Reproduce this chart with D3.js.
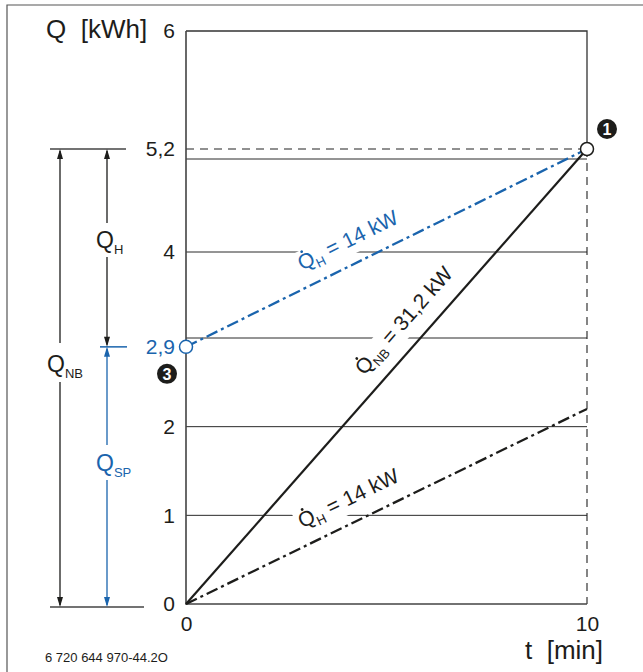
<!DOCTYPE html>
<html><head><meta charset="utf-8">
<script src="https://cdn.jsdelivr.net/npm/d3@7"></script>
<style>
html,body{margin:0;padding:0;background:#fff;}
svg{display:block;font-family:"Liberation Sans",Arial,sans-serif;}
</style></head>
<body>
<svg id="c" width="643" height="672"></svg>
<script>
// ---- data ----
const timeTicks = [0, 10];
const timeTickLabels = ["0", "10"];
const energyTicks = [0, 1, 2, 2.9, 4, 5.2, 6];
const energyTickLabels = ["0", "1", "2", "2,9", "4", "5,2", "6"];
const gridValues = [1, 2, 3, 4, 5];
const lineTimes = [0, 10];
const heaterStartQ = [2.9, 5.2];      // Q̇H = 14 kW, starting from storage 2,9
const totalQ = [0, 5.2];              // Q̇NB = 31,2 kW
const heaterOnlyQ = [0, 2.2];         // Q̇H = 14 kW from 0
const markerPoints = [[0, 2.9], [10, 5.2]];

const blue = "#1a64ad";
const ink = "#1d1d1b";

const svg = d3.select("#c");
const x = d3.scaleLinear().domain([0, 10]).range([186, 587]);
const y = d3.scaleLinear().domain([0, 3, 4, 5, 5.2, 6]).range([604, 338, 252, 159, 149, 31]);

// outer frame
svg.append("path").attr("d", "M7,672V5H643").attr("fill", "none").attr("stroke", "#555").attr("stroke-width", 1.2);

// grid lines
svg.append("g").selectAll("line").data(gridValues).join("line")
  .attr("x1", x(0)).attr("x2", x(10))
  .attr("y1", d => y(d)).attr("y2", d => y(d))
  .attr("stroke", "#2a2a2a").attr("stroke-width", 1);

// dashed 5.2 guide and right edge
svg.append("line").attr("x1", x(0)).attr("x2", x(10)).attr("y1", y(5.2)).attr("y2", y(5.2))
  .attr("stroke", "#222").attr("stroke-width", 1.1).attr("stroke-dasharray", "8,6");
svg.append("line").attr("x1", x(10)).attr("x2", x(10)).attr("y1", y(5.2)).attr("y2", y(0))
  .attr("stroke", "#222").attr("stroke-width", 1.1).attr("stroke-dasharray", "8,6");
svg.append("path").attr("d", `M${x(0)},${y(6)}H${x(10)}V${y(5.2)}`)
  .attr("fill", "none").attr("stroke", "#333").attr("stroke-width", 1.3);
// axes frame
svg.append("path").attr("d", `M${x(0)},${y(6)}V${y(0)}H${x(10)}`)
  .attr("fill", "none").attr("stroke", "#444").attr("stroke-width", 1.6);

// y axis labels
const yAxis = d3.axisLeft(y).tickValues(energyTicks)
  .tickFormat((d, i) => energyTickLabels[i]).tickSize(0).tickPadding(11);
const gy = svg.append("g").attr("transform", `translate(${x(0)},0)`).call(yAxis);
gy.select(".domain").remove();
gy.selectAll("text").attr("font-size", 21).attr("font-family", "Liberation Sans, Arial, sans-serif")
  .attr("fill", d => d === 2.9 ? blue : ink);

// x axis labels
const xAxis = d3.axisBottom(x).tickValues(timeTicks)
  .tickFormat((d, i) => timeTickLabels[i]).tickSize(0).tickPadding(12);
const gx = svg.append("g").attr("transform", `translate(0,${y(0)})`).call(xAxis);
gx.select(".domain").remove();
gx.selectAll("text").attr("font-size", 21).attr("font-family", "Liberation Sans, Arial, sans-serif").attr("fill", ink);

// axis titles
svg.append("text").attr("x", 46).attr("y", 38).attr("font-size", 26).attr("fill", ink)
  .attr("xml:space", "preserve").text("Q  [kWh]");
svg.append("text").attr("x", 603).attr("y", 659).attr("font-size", 26).attr("fill", ink)
  .attr("text-anchor", "end").attr("xml:space", "preserve").text("t  [min]");
svg.append("text").attr("x", 45).attr("y", 662).attr("font-size", 13).attr("fill", ink)
  .text("6 720 644 970-44.2O");

// rotated labels along lines
function lineLabel(q, frac, offset, color, sub, rest) {
  const x0 = x(lineTimes[0]), y0 = y(q[0]), x1 = x(lineTimes[1]), y1 = y(q[1]);
  const ang = Math.atan2(y1 - y0, x1 - x0) * 180 / Math.PI;
  const px = x0 + (x1 - x0) * frac, py = y0 + (y1 - y0) * frac;
  const g = svg.append("g").attr("transform", `translate(${px},${py}) rotate(${ang})`);
  const bg = g.append("rect").attr("fill", "#fff");
  const t = g.append("text").attr("x", 0).attr("y", -offset).attr("text-anchor", "middle")
    .attr("font-size", 21).attr("fill", color);
  t.append("tspan").text("Q");
  t.append("tspan").attr("font-size", 13).attr("dy", 5).text(sub);
  t.append("tspan").attr("dy", -5).attr("xml:space", "preserve").text(rest);
  const bb = t.node().getBBox();
  bg.attr("x", bb.x - 3).attr("y", bb.y).attr("width", bb.width + 6).attr("height", bb.height);
  const ext = t.node().getExtentOfChar(0);
  g.append("circle").attr("cx", ext.x + ext.width / 2).attr("cy", ext.y + 1.8).attr("r", 1.4).attr("fill", color);
}
lineLabel(heaterStartQ, 0.43, 17, blue, "H", " = 14 kW");
lineLabel(totalQ, 0.588, 17, ink, "NB", " = 31,2 kW");
lineLabel(heaterOnlyQ, 0.431, 17, ink, "H", " = 14 kW");

// series lines
const ln = d3.line().x(d => x(d[0])).y(d => y(d[1]));
function series(q, color, dash, w) {
  svg.append("path").datum(lineTimes.map((t, i) => [t, q[i]])).attr("d", ln)
    .attr("fill", "none").attr("stroke", color).attr("stroke-width", w)
    .attr("stroke-dasharray", dash);
}
series(heaterOnlyQ, ink, "12,4,3,4", 2.3);
series(totalQ, ink, null, 2.2);
series(heaterStartQ, blue, "12,4,3,4", 2.3);

// markers
svg.append("g").selectAll("circle").data(markerPoints).join("circle")
  .attr("cx", d => x(d[0])).attr("cy", d => y(d[1])).attr("r", 6.5)
  .attr("fill", "#fff").attr("stroke", (d, i) => i === 0 ? blue : ink).attr("stroke-width", 1.5);

// circled numbers
function badge(cx, cy, label) {
  svg.append("circle").attr("cx", cx).attr("cy", cy).attr("r", 10).attr("fill", ink);
  svg.append("text").attr("x", cx).attr("y", cy + 6).attr("text-anchor", "middle")
    .attr("font-size", 16).attr("font-weight", "bold").attr("fill", "#fff").text(label);
}
badge(x(10) + 20, y(5.2) - 20, "1");
badge(x(0) - 19, y(2.9) + 27, "3");

// dimension lines at left
const bottomY = y(0) + 3;
function hline(x1, x2, yy, color) {
  svg.append("line").attr("x1", x1).attr("x2", x2).attr("y1", yy).attr("y2", yy)
    .attr("stroke", color).attr("stroke-width", 1.5);
}
hline(50, 126, y(5.2), "#444");
hline(100, 127, y(2.9), blue);
hline(50, 144, bottomY, "#444");

function arrowHead(xx, yy, dir, color) {
  // dir: -1 pointing up, 1 pointing down
  svg.append("path").attr("d", `M${xx},${yy}L${xx - 3},${yy - dir * 10}L${xx + 3},${yy - dir * 10}Z`).attr("fill", color);
}
function dim(xx, yTop, yBot, gapTop, gapBot, color) {
  svg.append("line").attr("x1", xx).attr("x2", xx).attr("y1", yTop + 2).attr("y2", gapTop).attr("stroke", color).attr("stroke-width", 1.3);
  svg.append("line").attr("x1", xx).attr("x2", xx).attr("y1", gapBot).attr("y2", yBot - 2).attr("stroke", color).attr("stroke-width", 1.3);
  arrowHead(xx, yTop, -1, color);
  arrowHead(xx, yBot, 1, color);
}
dim(60, y(5.2), bottomY, 343, 382, ink);
dim(107, y(5.2), y(2.9), 223, 257, ink);
dim(107, y(2.9), bottomY, 445, 480, blue);

function dimLabel(xx, yy, sub, color) {
  const t = svg.append("text").attr("x", xx).attr("y", yy).attr("font-size", 23).attr("fill", color);
  t.append("tspan").text("Q");
  t.append("tspan").attr("font-size", 13).attr("dy", 6).text(sub);
}
dimLabel(96, 248, "H", ink);
dimLabel(47, 372, "NB", ink);
dimLabel(96, 471, "SP", blue);
</script>
</body></html>
